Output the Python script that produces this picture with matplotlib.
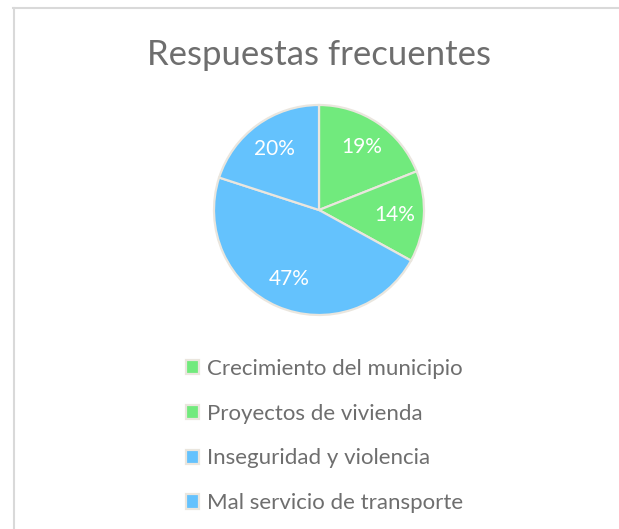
import matplotlib
matplotlib.use("Agg")
import matplotlib.pyplot as plt
from matplotlib.lines import Line2D

categories = ["Crecimiento del municipio", "Proyectos de vivienda",
              "Inseguridad y violencia", "Mal servicio de transporte"]
values = [19, 14, 47, 20]
colors = ["#71EA7D", "#71EA7D", "#64C2FD", "#64C2FD"]

plt.rcParams['font.family'] = ['Lato', 'DejaVu Sans']

fig = plt.figure(figsize=(6.19, 5.29), dpi=100)
W, H = 619, 529

# pie: centre (319,210), radius 105 px
cx, cy, r = 319, 210, 105
ax = fig.add_axes([(cx - r) / W, 1 - (cy + r) / H, 2 * r / W, 2 * r / H])
wedges, texts, autotexts = ax.pie(
    values, colors=colors, startangle=90, counterclock=False,
    autopct=lambda p: "%d%%" % round(p), pctdistance=0.72,
    wedgeprops=dict(edgecolor="#EAE6DE", linewidth=1.6),
    textprops=dict(color="white", fontsize=15))
ax.set_xlim(-1, 1)
ax.set_ylim(-1, 1)
ax.set_aspect("equal")
ax.axis("off")

fig.text(cx / W, 1 - 55 / H, "Respuestas frecuentes", ha="center", va="center",
         fontsize=25, color="#6E6E6E")

leg = fig.legend(wedges, categories, loc="center left",
                 bbox_to_anchor=(186 / W, 1 - 436 / H), frameon=False,
                 fontsize=16, labelspacing=1.12, handlelength=0.6,
                 handleheight=0.6, handletextpad=0.35, borderpad=0,
                 borderaxespad=0)
for t in leg.get_texts():
    t.set_color("#6E6E6E")

# chart frame (top and left edges visible)
fig.add_artist(Line2D([12.5 / W, 1], [1 - 7.5 / H, 1 - 7.5 / H],
                      color="#D9D9D9", linewidth=1.5, transform=fig.transFigure))
fig.add_artist(Line2D([13.5 / W, 13.5 / W], [1 - 7.5 / H, 0],
                      color="#D9D9D9", linewidth=1.5, transform=fig.transFigure))

plt.savefig("out.png", dpi=100)
